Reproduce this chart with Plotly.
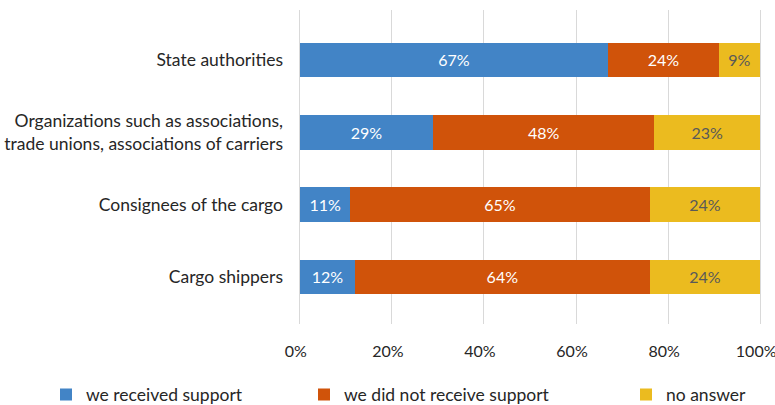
import plotly.graph_objects as go

# Survey responses: share of respondents per source of support (percent)
categories = [
    "State authorities",
    "Organizations such as associations,<br>trade unions, associations of carriers",
    "Consignees of the cargo",
    "Cargo shippers",
]
received = [67, 29, 11, 12]
not_received = [24, 48, 65, 64]
no_answer = [9, 23, 24, 24]

series_names = ["we received support", "we did not receive support", "no answer"]
colors = ["#4284C6", "#D0530A", "#EBBB1F"]
label_colors = ["#FFFFFF", "#FFFFFF", "#595959"]
x_ticks = [0, 20, 40, 60, 80, 100]
x_tick_text = [f"{v}%" for v in x_ticks]

FONT = "Lato"
INK = "#262626"

fig = go.Figure()
legend_ids = ["legend", "legend2", "legend3"]
for i, (name, vals) in enumerate(zip(series_names, [received, not_received, no_answer])):
    fig.add_trace(go.Bar(
        y=categories,
        x=vals,
        name=name,
        orientation="h",
        width=0.48,
        marker=dict(color=colors[i], line=dict(width=0)),
        text=[f"{v}%" for v in vals],
        textposition="inside",
        insidetextanchor="middle",
        textangle=0,
        constraintext="none",
        textfont=dict(family=FONT, size=16, color=label_colors[i]),
        hoverinfo="skip",
        showlegend=True,
        legend=legend_ids[i],
    ))

# one single-entry legend per series so each can sit at its own spot
legend_style = dict(
    orientation="h",
    xref="container", yref="container",
    yanchor="middle", xanchor="left",
    y=(405 - 394.5) / 405,
    font=dict(family=FONT, size=17.5, color=INK),
    bgcolor="rgba(0,0,0,0)",
    itemclick=False, itemdoubleclick=False,
)

fig.update_layout(
    width=775, height=405,
    margin=dict(l=298, r=13, t=10, b=81),
    paper_bgcolor="white", plot_bgcolor="white",
    barmode="stack",
    showlegend=True,
    font=dict(family=FONT, size=16, color=INK),
    legend=dict(legend_style, x=46 / 775),
    legend2=dict(legend_style, x=304 / 775),
    legend3=dict(legend_style, x=626 / 775),
    xaxis=dict(
        range=[-0.4, 100.4],
        tickmode="array", tickvals=x_ticks, ticktext=x_tick_text,
        showgrid=True, gridcolor="#D9D9D9", gridwidth=1,
        zeroline=False, showline=False,
        ticks="", ticklabelstandoff=16, ticklabelshift=-4,
        ticklabeloverflow="allow",
        tickfont=dict(family=FONT, size=16, color=INK),
        automargin=False,
        fixedrange=True,
    ),
    yaxis=dict(
        categoryorder="array", categoryarray=categories,
        range=[3.65, -0.69],
        showgrid=False, zeroline=False, showline=False,
        ticks="", ticklabelstandoff=14,
        tickfont=dict(family=FONT, size=17.5, color=INK),
        automargin=False,
        fixedrange=True,
    ),
)

fig.write_html("out.html")
